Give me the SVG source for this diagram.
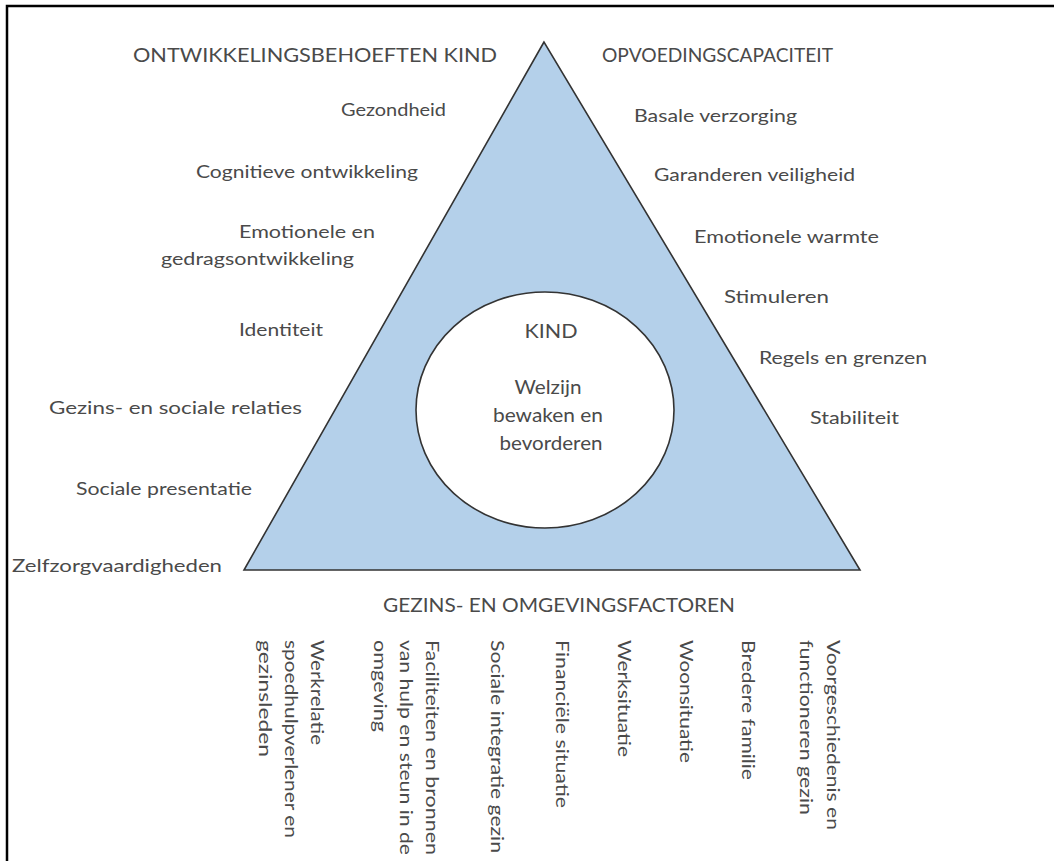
<svg xmlns="http://www.w3.org/2000/svg" width="1054" height="861" viewBox="0 0 1054 861">
<style>
  text { font-family: Lato, "Open Sans", "Liberation Sans", sans-serif; fill: #4a4a4a; }
  .h { font-size: 19px; }
  .t { font-size: 18px; }
  .c { font-size: 20px; }
  .v { font-size: 18px; }
  .shape { stroke: #333; stroke-width: 1.6; }
</style>
<rect width="1054" height="861" fill="#fff"/>
<path d="M7,861 V6 H1054" fill="none" stroke="#000" stroke-width="2.5"/>

<g id="triangle">
  <polygon class="shape" points="544,42 244,570 860,570" fill="#b4d0ea"/>
</g>
<g id="kind">
  <ellipse class="shape" cx="545" cy="410" rx="129" ry="118" fill="#fff"/>
  <text class="c" x="551" y="338" text-anchor="middle" textLength="53" lengthAdjust="spacingAndGlyphs">KIND</text>
  <text class="c" x="548" y="394" text-anchor="middle" textLength="67" lengthAdjust="spacingAndGlyphs">Welzijn</text>
  <text class="c" x="548" y="422" text-anchor="middle" textLength="110" lengthAdjust="spacingAndGlyphs">bewaken en</text>
  <text class="c" x="551" y="450" text-anchor="middle" textLength="103" lengthAdjust="spacingAndGlyphs">bevorderen</text>
</g>

<g id="ontwikkelingsbehoeften">
  <text class="h" x="133" y="62" textLength="364" lengthAdjust="spacingAndGlyphs">ONTWIKKELINGSBEHOEFTEN KIND</text>
  <text class="t" x="341" y="116" textLength="105" lengthAdjust="spacingAndGlyphs">Gezondheid</text>
  <text class="t" x="196" y="178" textLength="222" lengthAdjust="spacingAndGlyphs">Cognitieve ontwikkeling</text>
  <text class="t" x="239" y="238" textLength="136" lengthAdjust="spacingAndGlyphs">Emotionele en</text>
  <text class="t" x="161" y="265" textLength="193" lengthAdjust="spacingAndGlyphs">gedragsontwikkeling</text>
  <text class="t" x="239" y="336" textLength="84" lengthAdjust="spacingAndGlyphs">Identiteit</text>
  <text class="t" x="49" y="414" textLength="253" lengthAdjust="spacingAndGlyphs">Gezins- en sociale relaties</text>
  <text class="t" x="76" y="495" textLength="176" lengthAdjust="spacingAndGlyphs">Sociale presentatie</text>
  <text class="t" x="12" y="572" textLength="210" lengthAdjust="spacingAndGlyphs">Zelfzorgvaardigheden</text>
</g>

<g id="opvoedingscapaciteit">
  <text class="h" x="602" y="62" textLength="231" lengthAdjust="spacingAndGlyphs">OPVOEDINGSCAPACITEIT</text>
  <text class="t" x="634" y="122" textLength="163" lengthAdjust="spacingAndGlyphs">Basale verzorging</text>
  <text class="t" x="654" y="181" textLength="201" lengthAdjust="spacingAndGlyphs">Garanderen veiligheid</text>
  <text class="t" x="694" y="243" textLength="185" lengthAdjust="spacingAndGlyphs">Emotionele warmte</text>
  <text class="t" x="724" y="303" textLength="105" lengthAdjust="spacingAndGlyphs">Stimuleren</text>
  <text class="t" x="759" y="364" textLength="168" lengthAdjust="spacingAndGlyphs">Regels en grenzen</text>
  <text class="t" x="810" y="424" textLength="89" lengthAdjust="spacingAndGlyphs">Stabiliteit</text>
</g>

<g id="gezinsfactoren">
  <text class="h" x="383" y="612" textLength="352" lengthAdjust="spacingAndGlyphs">GEZINS- EN OMGEVINGSFACTOREN</text>
  <text class="v" transform="translate(311,640) rotate(90)" textLength="105" lengthAdjust="spacingAndGlyphs">Werkrelatie</text>
  <text class="v" transform="translate(285,640) rotate(90)" textLength="198" lengthAdjust="spacingAndGlyphs">spoedhulpverlener en</text>
  <text class="v" transform="translate(259,640) rotate(90)" textLength="117" lengthAdjust="spacingAndGlyphs">gezinsleden</text>
  <text class="v" transform="translate(426,640) rotate(90)" textLength="215" lengthAdjust="spacingAndGlyphs">Faciliteiten en bronnen</text>
  <text class="v" transform="translate(400,640) rotate(90)" textLength="215" lengthAdjust="spacingAndGlyphs">van hulp en steun in de</text>
  <text class="v" transform="translate(374,640) rotate(90)" textLength="92" lengthAdjust="spacingAndGlyphs">omgeving</text>
  <text class="v" transform="translate(491,640) rotate(90)" textLength="213" lengthAdjust="spacingAndGlyphs">Sociale integratie gezin</text>
  <text class="v" transform="translate(556,640) rotate(90)" textLength="168" lengthAdjust="spacingAndGlyphs">Financiële situatie</text>
  <text class="v" transform="translate(618,640) rotate(90)" textLength="117" lengthAdjust="spacingAndGlyphs">Werksituatie</text>
  <text class="v" transform="translate(680,640) rotate(90)" textLength="123" lengthAdjust="spacingAndGlyphs">Woonsituatie</text>
  <text class="v" transform="translate(742,640) rotate(90)" textLength="140" lengthAdjust="spacingAndGlyphs">Bredere familie</text>
  <text class="v" transform="translate(827,640) rotate(90)" textLength="190" lengthAdjust="spacingAndGlyphs">Voorgeschiedenis en</text>
  <text class="v" transform="translate(800,640) rotate(90)" textLength="175" lengthAdjust="spacingAndGlyphs">functioneren gezin</text>
</g>
</svg>
